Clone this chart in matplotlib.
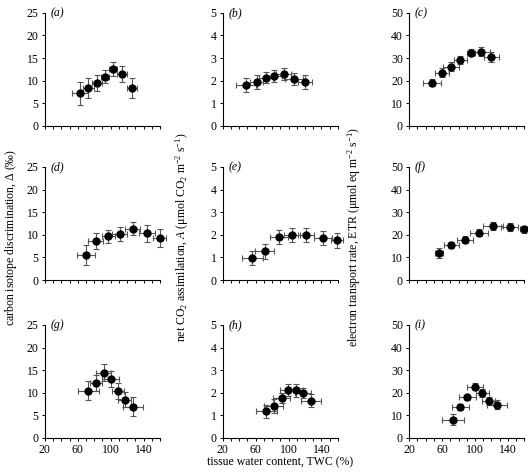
import numpy as np
import matplotlib
matplotlib.use('Agg')
import matplotlib.pyplot as plt

plt.rcParams['font.family'] = ['Liberation Serif', 'DejaVu Serif']
plt.rcParams['mathtext.fontset'] = 'custom'
plt.rcParams['mathtext.rm'] = 'Liberation Serif'
plt.rcParams['mathtext.it'] = 'Liberation Serif:italic'

# panel data: TWC (x), x error, value (y), y error
a_x = [63, 73, 83, 93, 103, 114, 126]
a_xe = [10, 7, 6, 5, 5, 6, 6.5]
a_y = [7.2, 8.4, 9.5, 10.9, 12.6, 11.5, 8.4]
a_ye = [2.6, 2.2, 1.8, 1.5, 1.5, 1.7, 2.2]

b_x = [48, 61, 72, 82, 94, 107, 120]
b_xe = [12, 8, 8.5, 10, 9.5, 11, 8]
b_y = [1.82, 1.93, 2.13, 2.2, 2.29, 2.07, 1.93]
b_ye = [0.3, 0.3, 0.24, 0.27, 0.27, 0.27, 0.32]

c_x = [48, 60, 71, 82, 95, 107, 120]
c_xe = [11, 9, 9.5, 7.7, 4.7, 10.7, 8.7]
c_y = [19.1, 23.5, 26.2, 29.1, 32.4, 32.8, 30.6]
c_ye = [1.5, 2.0, 1.9, 1.8, 1.6, 2.1, 2.2]

d_x = [69.5, 82, 97, 111, 127, 144, 159.5]
d_xe = [11, 9, 8, 9, 9, 10, 8]
d_y = [5.5, 8.7, 9.7, 10.2, 11.3, 10.35, 9.3]
d_ye = [2.2, 1.8, 1.45, 1.5, 1.45, 1.9, 1.9]

e_x = [56, 71, 88, 104, 121.5, 142, 159]
e_xe = [12.5, 11.5, 11, 9.5, 10, 11, 7]
e_y = [0.99, 1.28, 1.9, 1.98, 1.98, 1.87, 1.75]
e_ye = [0.31, 0.33, 0.3, 0.31, 0.3, 0.31, 0.34]

f_x = [56, 71, 88, 105, 122, 142, 159.5]
f_xe = [5, 9, 10, 11, 12, 10.5, 5]
f_y = [11.9, 15.3, 17.8, 21.0, 24.0, 23.4, 22.5]
f_ye = [2.2, 1.3, 1.6, 1.6, 1.8, 1.7, 1.5]

g_x = [73, 82, 91.5, 100, 109, 117, 127]
g_xe = [13, 7.5, 9, 10, 7, 8, 12]
g_y = [10.4, 12.2, 14.4, 13.0, 10.3, 8.5, 6.85]
g_ye = [2.1, 1.8, 1.9, 1.7, 1.75, 1.7, 2.1]

h_x = [73, 82, 91.5, 99.5, 109, 117.5, 127]
h_xe = [13, 11.5, 10.5, 10, 9, 10, 12]
h_y = [1.17, 1.41, 1.75, 2.11, 2.11, 2.0, 1.65]
h_ye = [0.29, 0.3, 0.22, 0.27, 0.29, 0.23, 0.28]

i_x = [73.5, 82, 90.5, 100, 109, 116.5, 127]
i_xe = [13.5, 10.5, 10.5, 9.7, 8.3, 8, 12.5]
i_y = [8.1, 13.5, 17.9, 22.6, 19.7, 16.5, 14.7]
i_ye = [2.3, 1.3, 1.3, 1.5, 1.8, 1.8, 2.0]

panels = [
    ('a', a_x, a_xe, a_y, a_ye), ('b', b_x, b_xe, b_y, b_ye), ('c', c_x, c_xe, c_y, c_ye),
    ('d', d_x, d_xe, d_y, d_ye), ('e', e_x, e_xe, e_y, e_ye), ('f', f_x, f_xe, f_y, f_ye),
    ('g', g_x, g_xe, g_y, g_ye), ('h', h_x, h_xe, h_y, h_ye), ('i', i_x, i_xe, i_y, i_ye),
]
y_max = [25, 5, 50]
y_step = [5, 1, 10]
x_labels = [20, 60, 100, 140]

fig = plt.figure(figsize=(5.28, 4.75), dpi=100)
lefts = [0.085, 0.422, 0.775]
bottoms = [0.735, 0.4105, 0.078]
w, h = 0.218, 0.238
fs = 8.5

for k, (lab, x, xe, y, ye) in enumerate(panels):
    row, col = divmod(k, 3)
    ax = fig.add_axes([lefts[col], bottoms[row], w, h])
    eb = ax.errorbar(x, y, xerr=xe, yerr=ye, fmt='o', color='black', ms=5,
                     ecolor='#555555', elinewidth=0.8, capsize=2, capthick=0.8)
    for art in eb.get_children():
        art.set_clip_on(False)
    ax.set_xlim(20, 160)
    ax.set_ylim(0, y_max[col])
    ax.spines['top'].set_visible(False)
    ax.spines['right'].set_visible(False)
    ax.spines['left'].set_linewidth(0.8)
    ax.spines['bottom'].set_linewidth(0.8)
    ax.set_yticks(np.arange(0, y_max[col] + 0.01, y_step[col]))
    ax.set_xticks(np.arange(20, 161, 10))
    if row == 2:
        ax.set_xticklabels([str(t) if t in x_labels else '' for t in range(20, 161, 10)])
    else:
        ax.set_xticklabels([])
    ax.tick_params(direction='out', length=2.5, width=0.7, labelsize=fs, pad=2)
    ax.text(0.05, 1.0, '(' + lab + ')', transform=ax.transAxes, fontsize=fs,
            fontstyle='italic', va='center', ha='left')

fig.text(0.02, 0.5, r'carbon isotope discrimination, $\it{\Delta}$ (‰)',
         rotation=90, fontsize=fs, va='center', ha='center')
fig.text(0.345, 0.5, r'net CO$_2$ assimilation, $\it{A}$ (μmol CO$_2$ m$^{-2}$ s$^{-1}$)',
         rotation=90, fontsize=fs, va='center', ha='center')
fig.text(0.67, 0.5, r'electron transport rate, ETR (μmol eq m$^{-2}$ s$^{-1}$)',
         rotation=90, fontsize=fs, va='center', ha='center')
fig.text(0.53, 0.027, 'tissue water content, TWC (%)', fontsize=fs, va='center', ha='center')

fig.savefig('out.png', dpi=100)
